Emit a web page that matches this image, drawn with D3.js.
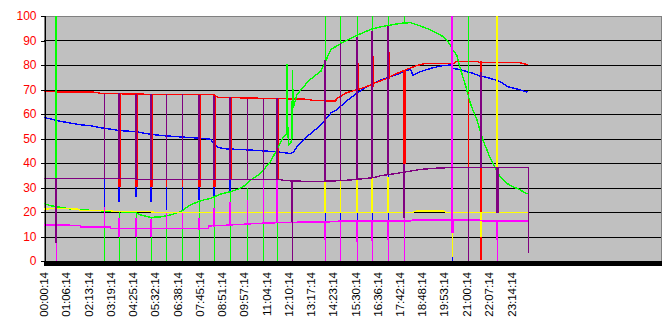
<!DOCTYPE html>
<html lang="en">
<head>
<meta charset="utf-8">
<title>Sensor log</title>
<script src="https://d3js.org/d3.v7.min.js"></script>
<style>
  body { margin: 0; background: #fff; }
  svg { display: block; font-family: Arial, "Liberation Sans", sans-serif; }
  .grid line { stroke: #000; shape-rendering: crispEdges; }
  .series path, .series line { fill: none; shape-rendering: crispEdges; }
</style>
</head>
<body>
<svg id="chart" width="666" height="326"></svg>
<script>

// data (minutes since midnight, value) ***************************

const timeLabels = ["00:00:14", "01:06:14", "02:13:14", "03:19:14", "04:25:14", "05:32:14",
  "06:38:14", "07:45:14", "08:51:14", "09:57:14", "11:04:14", "12:10:14", "13:17:14",
  "14:23:14", "15:30:14", "16:36:14", "17:42:14", "18:48:14", "19:53:14", "21:00:14",
  "22:07:14", "23:14:14"]

const yTicks = [0, 10, 20, 30, 40, 50, 60, 70, 80, 90, 100]

const bluePts = [[0,58.5],[19,58],[49,57],[79,56.3],[109,55.6],[139,55.2],[168,54.4],[198,53.8],
  [228,53.2],[273,52.8],[318,51.7],[362,51.1],[422,50.5],[467,50.1],[497,49.7],[505,48],
  [520,46.3],[541,45.8],[616,45.3],[690,44.6],[728,44],[737,44],[745,44.5],[754,46.7],
  [774,49.5],[795,52],[826,55.5],[856,60.5],[871,61.6],[916,66.8],[959,70.9],[1004,73.9],
  [1048,75.9],[1078,77.6],[1093,78.2],[1100,75.9],[1123,77.3],[1153,78.6],[1183,79.6],
  [1212,80],[1219,78.6],[1240,78.2],[1261,77.3],[1279,76.6],[1300,75.5],[1321,74.9],
  [1339,74.2],[1360,73.2],[1384,71.1],[1421,69.8],[1442,68.9]]

const redPts = [[0,69.1],[150,68.9],[170,68.4],[330,68.0],[505,67.9],[520,66.8],[790,66.0],
  [800,65.5],[870,65.3],[872,66.2],[886,67.3],[901,68.6],[931,69.8],[959,71],[989,72.8],
  [1018,74.3],[1048,76.3],[1078,78],[1108,79.6],[1138,80.7],[1225,80.7],[1227,81.5],
  [1296,81.5],[1298,80.9],[1420,80.9],[1442,80.1]]

const greenPts = [[0,23.5],[19,22.6],[49,21.9],[79,21.2],[124,20.8],[168,20.5],[228,20.1],
  [273,19.7],[288,18.8],[318,17.8],[348,18],[378,18.8],[407,20.1],[437,22.9],[467,24.6],
  [497,25.6],[526,27.3],[556,28.3],[586,29.7],[601,31],[616,33],[646,35.8],[675,40.5],
  [694,45.3],[714,50.7],[724,52],[725,80.4],[727,55],[729,47.3],[735,48],[739,49.4],
  [740,61.6],[741,78],[743,62.4],[754,67.8],[774,71.2],[795,74.2],[826,77.5],[856,86.4],
  [886,88.8],[916,90.9],[946,92.9],[974,94.5],[1004,95.6],[1033,96.3],[1063,97],[1093,97.3],
  [1123,95.9],[1153,94.3],[1183,92.2],[1197,90.9],[1210,88.5],[1219,86.1],[1231,84],
  [1240,79.3],[1249,75.2],[1261,69.8],[1270,65],[1279,61.6],[1291,57.6],[1300,53.5],
  [1309,49.4],[1321,45.3],[1330,42.2],[1339,39.9],[1351,36.5],[1360,34.4],[1375,32.4],
  [1384,31.4],[1395,30.6],[1420,29],[1442,27.3]]

const yellowPts = [[0,21.2],[40,21.5],[100,21.2],[110,20.5],[200,20.5],[210,20.1],[318,20.1],
  [330,19.9],[1100,19.9],[1110,20.4],[1190,20.4],[1200,19.9],[1442,19.9]]

const magentaPts = [[0,14.7],[64,14.7],[109,14.4],[110,13.8],[198,13.8],[200,13.3],[490,13.3],
  [492,14.3],[556,14.7],[646,15.4],[735,15.8],[856,16],[880,16.3],[1093,16.3],[1100,16.7],
  [1300,16.7],[1310,16.3],[1442,16.3]]

const purplePts = [[0,33.7],[273,33.7],[275,33.3],[700,33.3],[720,32.8],[800,32.4],[886,32.8],
  [916,33.1],[946,33.5],[982,34],[1004,34.8],[1033,35.4],[1063,36],[1093,36.7],[1123,37.4],
  [1183,38],[1242,38.2],[1442,38.2]]

// dropouts: [minute, from, to, samples]
const blueSpikes = [[35,58.2,100,1],[178,54,22,1],[225,53.2,24.2,2],[273,52.8,26.2,2],
  [320,51.7,24,2],[365,51.1,20.8,1],[413,50.5,20.8,1],[461,50.1,24.9,2],[508,48,26.2,2],
  [556,45.8,28.3,2],[838,58,16,1],[884,62,16,1],[932,67,16,1],[979,71,16,1],[1027,74,16,1],
  [1218,79.6,0,1]]

const redSpikes = [[37,69,63.7,1],[225,68.4,30.3,3],[273,68.3,30.3,3],[320,68,30.3,3],
  [365,68,30.3,1],[413,68,30.3,1],[461,67.9,30.3,3],[508,67.5,30.3,3],[556,66.8,33,3],
  [604,66,33,1],[652,66,33,1],[696,66.4,33,3],[838,65.5,73,1],[932,69.8,80.7,3],
  [979,71,83.7,3],[1027,74.3,85.4,3],[1075,78,39.6,3],[1263,81.5,38.2,1],[1303,81.5,0.5,2]]

const greenSpikes = [[37,23,100,2],[178,20.5,0,1],[225,20.1,0,1],[273,19.7,0,1],[320,17.8,0,1],
  [365,18,0,1],[413,20,0,1],[461,24.6,0,1],[508,26,0,1],[556,28.3,0,1],[604,29.7,0,1],
  [652,37,0,1],[696,43,0,1],[838,82,100,1],[884,88.8,100,1],[932,91.5,100,1],[979,94,100,1],
  [1027,96,100,1],[1075,97,100,1],[1263,69,100,1]]

const yellowSpikes = [[37,21,14.7,1],[838,20,32.4,2],[884,20,32.8,1],[932,20,33.1,2],
  [979,20,34,2],[1027,20,34.4,2],[1218,11.3,1.8,1],[1303,19.9,10,2],[1350,19.9,100,2]]

const magentaSpikes = [[37,14.7,0,1],[178,14,22,1],[225,17.4,9.9,2],[273,17.4,9.9,2],
  [320,17,10,2],[365,19.6,13.3,1],[413,19.6,13.3,1],[461,17.5,12.7,2],[508,21.6,14,2],
  [556,24.2,14.7,2],[604,25,15.5,1],[652,33,15.5,1],[696,33,16,2],[838,16.3,8.6,2],
  [838,8.6,0,1],[884,16.3,0,1],[932,16.3,7.9,2],[932,7.9,0,1],[979,16.3,8,2],[979,8,0,1],
  [1027,16.3,8.6,2],[1027,8.6,0,1],[1075,17.4,0,1],[1218,100,16.7,2],[1218,16.7,11.3,3],
  [1350,16.7,8.6,2],[1350,8.6,0,1]]

const purpleSpikes = [[37,33.7,7.3,2],[178,33.7,68.3,1],[225,33.7,68.4,2],[273,33.5,68.3,2],
  [320,33.3,68,2],[365,33.3,68,1],[413,33.3,68,1],[461,33.3,67.9,2],[508,33.3,67.5,2],
  [556,33.3,66.8,2],[604,33.3,66.3,1],[652,33.3,66,1],[696,33.3,66.4,2],[741,33,16,2],
  [741,16,0,1],[838,32.4,82,2],[884,32.8,88.8,1],[932,33.1,91.5,2],[979,34,94,2],
  [1027,35,96,2],[1075,39.6,17.4,2],[1263,38.2,0,1],[1303,38.2,77,2],[1350,38.2,19.5,3],
  [1442,38.2,3.3,1]]

// drawing order follows the spreadsheet series order
const series = [
  {pts: bluePts, spikes: blueSpikes, color: "#0000ff"},
  {pts: redPts, spikes: redSpikes, color: "#ff0000"},
  {pts: greenPts, spikes: greenSpikes, color: "#00ff00"},
  {pts: yellowPts, spikes: yellowSpikes, color: "#ffff00"},
  {pts: magentaPts, spikes: magentaSpikes, color: "#ff00ff"},
  {pts: purplePts, spikes: purpleSpikes, color: "#800080"}
]

// layout *********************************************************

const plotLeft = 44, plotRight = 661, plotTop = 16, plotBottom = 261

const svg = d3.select("#chart")

const x = d3.scaleLinear().domain([0, 1840]).range([plotLeft, plotRight])
const y = d3.scaleLinear().domain([0, 100]).range([plotBottom, plotTop])

function toMinutes(s) {
  const p = s.split(":").map(Number)
  return p[0] * 60 + p[1] + p[2] / 60
}

// plot area
svg.append("rect")
  .attr("x", plotLeft + 0.5).attr("y", plotTop + 0.5)
  .attr("width", plotRight - plotLeft).attr("height", plotBottom - plotTop)
  .attr("fill", "#c0c0c0")
  .attr("stroke", "#808080")
  .style("shape-rendering", "crispEdges")

// gridlines
svg.append("g").attr("class", "grid")
  .selectAll("line")
  .data(yTicks.filter(d => d > 0 && d < 100))
  .join("line")
    .attr("x1", plotLeft).attr("x2", plotRight)
    .attr("y1", d => Math.round(y(d)) + 0.5)
    .attr("y2", d => Math.round(y(d)) + 0.5)

// series
const line = d3.line()
  .x(d => x(d[0]))
  .y(d => y(d[1]))

series.forEach(s => {
  const g = svg.append("g").attr("class", "series")
  g.append("path")
    .attr("d", line(s.pts))
    .attr("stroke", s.color)
    .attr("stroke-width", 1.4)
  g.selectAll("line")
    .data(s.spikes)
    .join("line")
      .attr("x1", d => Math.round(x(d[0])) + (d[3] % 2 ? 0.5 : 0))
      .attr("x2", d => Math.round(x(d[0])) + (d[3] % 2 ? 0.5 : 0))
      .attr("y1", d => y(d[1]))
      .attr("y2", d => y(d[2]))
      .attr("stroke", s.color)
      .attr("stroke-width", d => d[3])
})

// y axis
const yAxis = svg.append("g")
  .attr("transform", `translate(${plotLeft + 0.5},0)`)
  .call(d3.axisLeft(y).tickValues(yTicks).tickSize(4).tickPadding(4))
yAxis.select(".domain").attr("stroke", "#000").style("shape-rendering", "crispEdges")
yAxis.selectAll(".tick line").attr("stroke", "#000").style("shape-rendering", "crispEdges")
yAxis.selectAll(".tick text")
  .attr("fill", "#ff0000")
  .style("font-size", "12px")
  .style("font-family", "Arial, 'Liberation Sans', sans-serif")

// x axis: dense category ticks make a black band
svg.append("rect")
  .attr("x", plotLeft).attr("y", plotBottom)
  .attr("width", plotRight - plotLeft + 1).attr("height", 5)
  .attr("fill", "#000")

svg.append("g")
  .selectAll("text")
  .data(timeLabels)
  .join("text")
    .attr("transform", d => `translate(${x(toMinutes(d))},${plotBottom + 11}) rotate(-90)`)
    .attr("text-anchor", "end")
    .attr("dy", "0.35em")
    .style("font-size", "11.5px")
    .attr("fill", "#000")
    .text(d => d)

</script>
</body>
</html>
